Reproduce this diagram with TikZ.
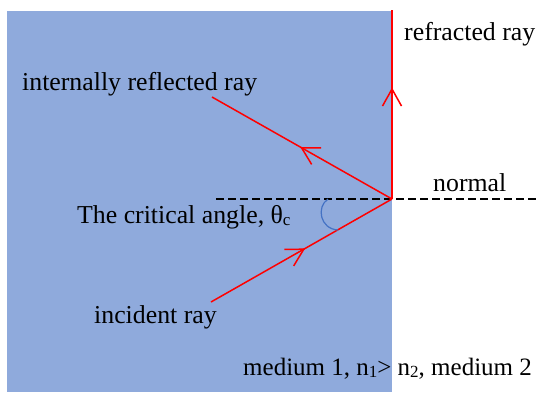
\documentclass[tikz,border=0pt]{standalone}
\usepackage{fontspec}
\setmainfont{Liberation Serif}
\usetikzlibrary{arrows.meta,decorations.markings}
\definecolor{medblue}{HTML}{8FAADC}
\definecolor{rayred}{HTML}{FF0000}
\definecolor{arcblue}{HTML}{4472C4}
\newcommand{\mysub}[1]{\raisebox{-2.5pt}{\fontsize{17}{20}\selectfont #1}}
\tikzset{
  lbl/.style={anchor=base west,inner sep=0pt,font=\fontsize{25.8}{30}\selectfont},
  ray/.style={draw=rayred,line width=1.5pt},
  midarrow/.style={postaction={decorate},decoration={markings,
     mark=at position #1 with {\arrow{Straight Barb[length=17pt,width=19pt,line width=1.5pt]}}}},
  normalline/.style={draw=black,line width=1.3pt,dash pattern=on 8pt off 4pt},
}
\begin{document}
\begin{tikzpicture}[x=1pt,y=-1pt]
\useasboundingbox (0,0) rectangle (540,392);
\fill[medblue] (7,11) rectangle (392,392);
% points
\coordinate (O) at (392,199);
\coordinate (A) at (211,302);
\coordinate (R) at (212,97);
\coordinate (T) at (392,10);
\coordinate (N1) at (216,199);
\coordinate (N2) at (540,199);
\coordinate (C1) at (328,199);
\coordinate (C2) at (338,230);
% normal
\draw[normalline] (N1) -- (N2);
% rays
\draw[ray,midarrow=0.52,rayred] (A) -- (O);
\draw[ray,midarrow=0.51,rayred] (O) -- (R);
\draw[ray,midarrow=0.59,rayred] (O) -- (T);
% angle arc
\draw[arcblue,line width=1.2pt] (C1) .. controls (316,207) and (320,229) .. (C2);
% labels
\node[lbl] (lref) at (404,40) {refracted ray};
\node[lbl] (lint) at (22,90) {internally reflected ray};
\node[lbl] (lnorm) at (433,191) {normal};
\node[lbl] (lcrit) at (77,223) {The critical angle, θ\mysub{c}};
\node[lbl] (linc) at (94,323) {incident ray};
\node[lbl,font=\fontsize{25}{30}\selectfont] (lmed) at (243,375) {medium 1, n\mysub{1}> n\mysub{2}, medium 2};
\end{tikzpicture}
\end{document}
